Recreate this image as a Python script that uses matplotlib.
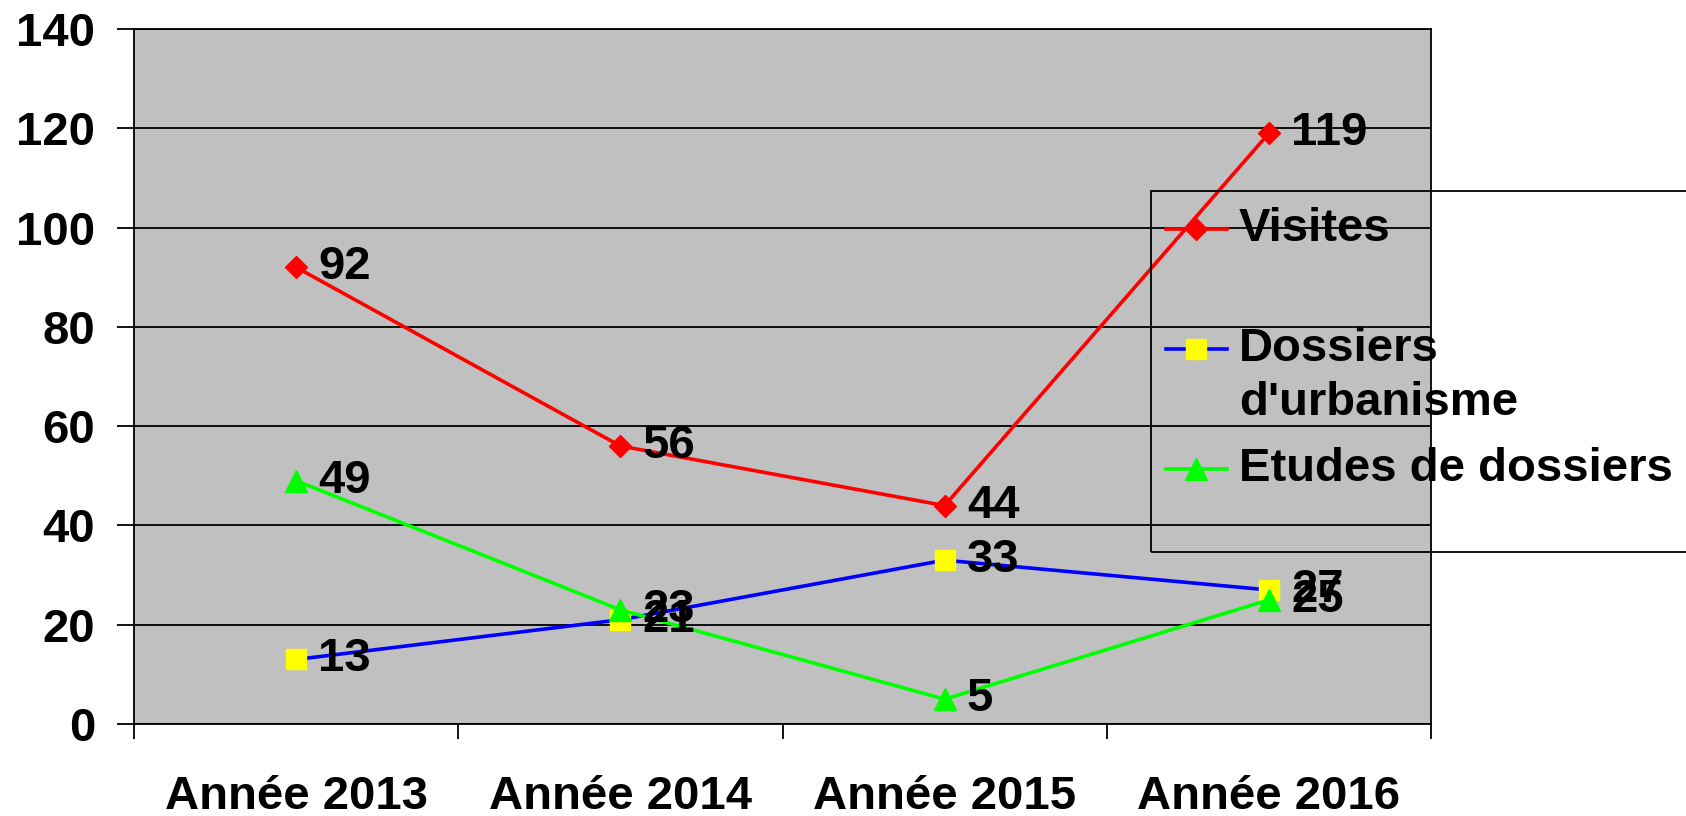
import matplotlib
matplotlib.use("Agg")
import matplotlib.pyplot as plt
from matplotlib.lines import Line2D
from matplotlib.patches import Rectangle

plt.rcParams["font.family"] = ["Liberation Sans", "DejaVu Sans"]
plt.rcParams["font.weight"] = "bold"

categories = ["Année 2013", "Année 2014", "Année 2015", "Année 2016"]
visites = [92, 56, 44, 119]
dossiers = [13, 21, 33, 27]
etudes = [49, 23, 5, 25]
y_ticks = [0, 20, 40, 60, 80, 100, 120, 140]

series = [
    ("Visites", visites, "#FF0000", "D", "#FF0000", 11),
    ("Dossiers\nd'urbanisme", dossiers, "#0000FF", "s", "#FFFF00", 14),
    ("Etudes de dossiers", etudes, "#00FF00", "^", "#00FF00", 16),
]

FS = 34
W, H = 1686, 816
fig = plt.figure(figsize=(W / 100, H / 100), dpi=100)
ax = fig.add_axes([134 / W, 1 - 724 / H, (1431 - 134) / W, (724 - 29) / H])
ax.set_facecolor("#C0C0C0")

x = list(range(len(categories)))
for name, vals, col, mk, mcol, ms in series:
    ax.plot(x, vals, color=col, lw=2.6, marker=mk, markersize=ms,
            markerfacecolor=mcol, markeredgecolor=mcol, zorder=3)
    for xi, v in zip(x, vals):
        ax.annotate(str(v), (xi, v), xytext=(16, 0), textcoords="offset points",
                    ha="left", va="center", fontsize=FS, fontweight="bold", zorder=4)

ax.set_xlim(-0.5, len(categories) - 0.5)
ax.set_ylim(0, 140)
ax.set_yticks(y_ticks)
ax.yaxis.grid(True, color="black", lw=1.3)
ax.set_axisbelow(True)
ax.tick_params(axis="y", length=12, width=1.3, pad=16, labelsize=FS)

# category boundaries as major ticks, labels at centres
ax.set_xticks([i - 0.5 for i in range(len(categories) + 1)])
ax.set_xticklabels([])
ax.set_xticks(x, minor=True)
ax.set_xticklabels(categories, minor=True)
ax.tick_params(axis="x", which="major", length=11, width=1.3)
ax.tick_params(axis="x", which="minor", length=0, pad=37, labelsize=FS)
for lab in ax.get_xticklabels(minor=True) + ax.get_yticklabels():
    lab.set_fontweight("bold")
for sp in ax.spines.values():
    sp.set_color("black")
    sp.set_linewidth(1.3)

# legend drawn in figure pixels, runs off the right edge like the original
def fx(px):
    return px / W

def fy(py):
    return 1 - py / H

fig.add_artist(Rectangle((fx(1151), fy(552)), fx(700), (552 - 191) / H,
                         fill=False, edgecolor="black", lw=1.3,
                         transform=fig.transFigure, zorder=5))
legend_rows = [229, 349, 469]
for (name, vals, col, mk, mcol, ms), py in zip(series, legend_rows):
    fig.add_artist(Line2D([fx(1166), fx(1227)], [fy(py), fy(py)], color=col, lw=2.6,
                          transform=fig.transFigure, zorder=6))
    fig.add_artist(Line2D([fx(1196)], [fy(py)], marker=mk, markersize=ms,
                          markerfacecolor=mcol, markeredgecolor=mcol, lw=0,
                          transform=fig.transFigure, zorder=6))
    fig.text(fx(1239), fy(py), name.split("\n")[0], fontsize=FS, fontweight="bold",
             ha="left", va="center")
    if "\n" in name:
        fig.text(fx(1239), fy(py + 54), name.split("\n")[1], fontsize=FS,
                 fontweight="bold", ha="left", va="center")

fig.savefig("out.png", dpi=100)
